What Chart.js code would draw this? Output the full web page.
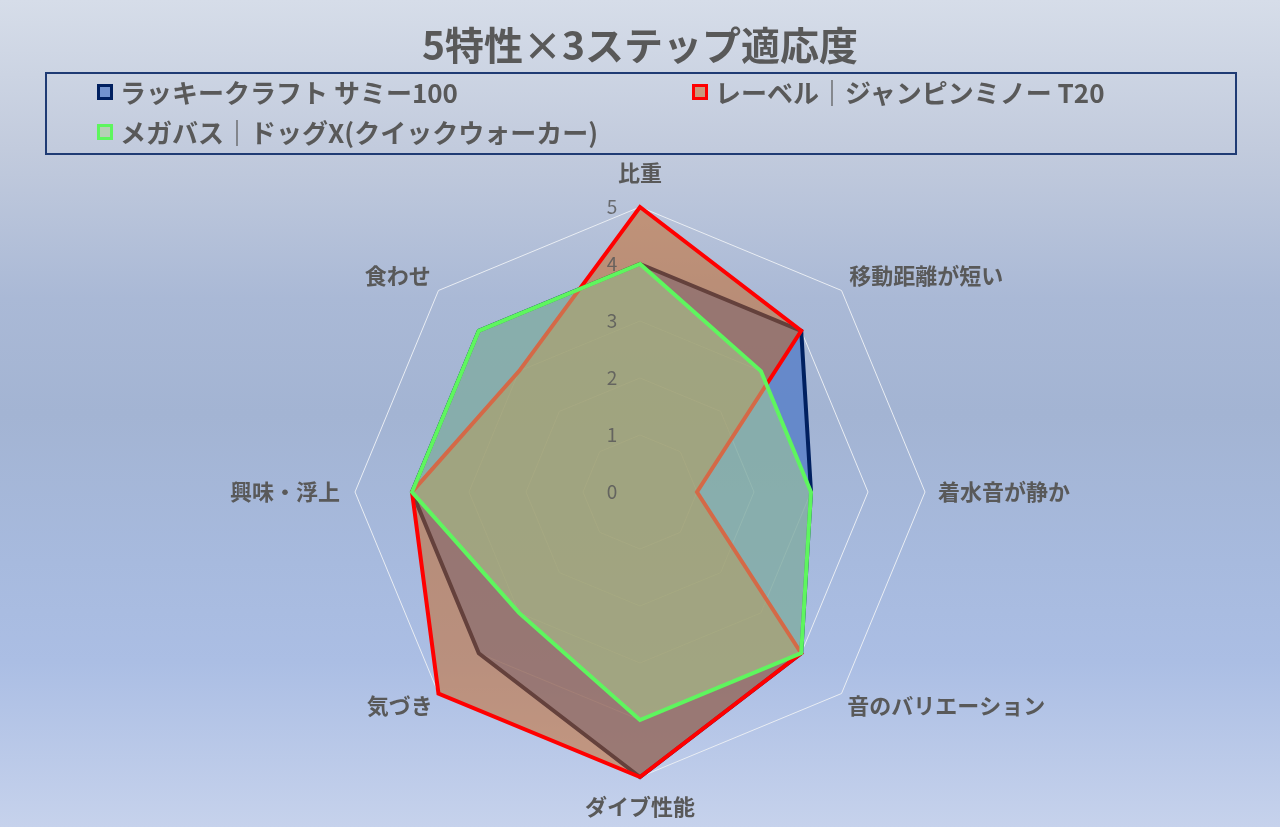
<!DOCTYPE html>
<html lang="ja"><head><meta charset="utf-8">
<script src="https://cdn.jsdelivr.net/npm/chart.js@4.4.1/dist/chart.umd.min.js"></script>
<style>
html,body{margin:0;padding:0;width:1280px;height:827px;overflow:hidden;}
body{background:linear-gradient(to bottom,#d6dde9 0%,#c2cbdd 18%,#aab9d6 36%,#a3b4d3 50%,#a7bade 68%,#abbee4 80%,#c6d2ec 100%);font-family:"Noto Sans CJK JP",sans-serif;}
#wrap{position:relative;width:1280px;height:827px;}
#chart{position:absolute;left:0;top:0;}
#legend{position:absolute;left:45px;top:72px;width:1188px;height:79px;border:2px solid #1f3b74;}
.item{position:absolute;display:flex;align-items:center;height:30px;font-weight:700;font-size:26px;color:#595959;white-space:nowrap;line-height:1;}
.mk{width:10px;height:10px;border:3px solid;margin-right:7px;flex:none;}
</style></head>
<body>
<div id="wrap">
<canvas id="chart" width="1280" height="827"></canvas>
<div id="legend"></div>
</div>
<script>
const titleText = '5特性×3ステップ適応度';
const categories = ['比重','移動距離が短い','着水音が静か','音のバリエーション','ダイブ性能','気づき','興味・浮上','食わせ'];
const seriesNames = ['ラッキークラフト サミー100','レーベル｜ジャンピンミノー T20','メガバス｜ドッグX(クイックウォーカー)'];
const sammy    = [4,4,3,4,5,4,4,4];
const revel    = [5,4,1,4,5,5,4,3];
const megabass = [4,3,3,4,4,3,4,4];
const tickValues = [0,1,2,3,4,5];

const FONT = '"Noto Sans CJK JP", "Noto Sans", sans-serif';
const lineColors = ['#002060','#ff0000','#5ef65e'];
const fillColors = ['rgba(68,114,196,0.65)','rgba(200,98,24,0.5)','rgba(169,209,142,0.5)'];
const drawOrder = [3,2,1];
const labelPad = [28,11,13,8,23,8,15,11];
const legendPos = [[50,3],[645,3],[50,43]];

const seriesValues = [sammy, revel, megabass];

const tickPlugin = {
  id: 'tickLabels',
  afterDatasetsDraw(chart) {
    const s = chart.scales.r, ctx = chart.ctx;
    ctx.save();
    ctx.font = '400 19px ' + FONT;
    ctx.fillStyle = 'rgba(89,89,89,0.85)';
    ctx.textAlign = 'center';
    ctx.textBaseline = 'middle';
    tickValues.forEach(v => {
      const d = s.getDistanceFromCenterForValue(v);
      ctx.fillText(String(v), s.xCenter - 28, s.yCenter - d);
    });
    ctx.restore();
  }
};

new Chart(document.getElementById('chart'), {
  type: 'radar',
  data: {
    labels: categories,
    datasets: seriesValues.map((vals, i) => ({
      label: seriesNames[i],
      data: vals,
      borderColor: lineColors[i],
      backgroundColor: fillColors[i],
      borderWidth: 4,
      fill: true,
      order: drawOrder[i],
      pointRadius: 0,
      pointHoverRadius: 0
    }))
  },
  options: {
    responsive: false,
    animation: false,
    layout: { padding: { top: 0, bottom: 10, left: 0, right: 0 } },
    plugins: {
      legend: { display: false },
      tooltip: { enabled: false },
      title: {
        display: true, text: titleText, color: '#595959',
        font: { family: FONT, size: 39, weight: '700', lineHeight: 1.2 },
        padding: { top: 22, bottom: 95 }
      }
    },
    elements: { line: { tension: 0, borderJoinStyle: 'miter' } },
    scales: {
      r: {
        min: 0, max: 5,
        ticks: { display: false, stepSize: 1 },
        grid: { color: '#e9edf3', lineWidth: 1 },
        angleLines: { display: false },
        pointLabels: {
          color: '#595959',
          font: { family: FONT, size: 22, weight: '700', lineHeight: 0.6 },
          padding: ctx => labelPad[ctx.index]
        }
      }
    }
  },
  plugins: [tickPlugin]
});

const lg = document.getElementById('legend');
seriesNames.forEach((name, i) => {
  const it = document.createElement('div');
  it.className = 'item';
  it.style.left = legendPos[i][0] + 'px';
  it.style.top = legendPos[i][1] + 'px';
  const mk = document.createElement('span');
  mk.className = 'mk';
  mk.style.borderColor = lineColors[i];
  mk.style.background = fillColors[i];
  const tx = document.createElement('span');
  tx.textContent = name;
  it.appendChild(mk); it.appendChild(tx);
  lg.appendChild(it);
});
</script>
</body></html>
